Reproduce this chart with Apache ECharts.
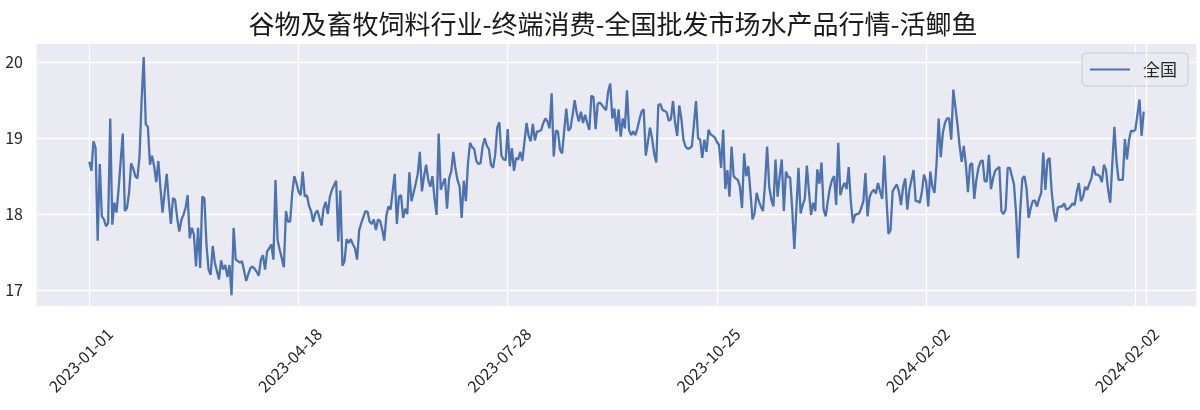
<!DOCTYPE html>
<html>
<head>
<meta charset="utf-8">
<script src="https://cdn.jsdelivr.net/npm/echarts@6/dist/echarts.min.js"></script>
<style>html,body{margin:0;padding:0;background:#fff}#c{width:1200px;height:410px}</style>
</head>
<body>
<div id="c"></div>
<script>
const titleText = '谷物及畜牧饲料行业-终端消费-全国批发市场水产品行情-活鲫鱼';
const seriesName = '全国';
const tickIndex = [0, 100, 200, 300, 400, 500];
const tickLabels = ['2023-01-01', '2023-04-18', '2023-07-28', '2023-10-25', '2024-02-02', '2024-02-02'];
const extraGridX = [505];
const yTicks = [17, 18, 19, 20];
const values = [
18.69,18.57,18.96,18.87,17.65,18.66,17.97,17.93,17.84,17.88,
19.26,17.86,18.15,18.02,18.33,18.70,19.06,18.04,18.08,18.28,
18.67,18.60,18.50,18.47,18.76,19.50,20.07,19.18,19.15,18.65,
18.77,18.63,18.42,18.70,18.35,18.02,18.28,18.53,18.17,17.87,
18.21,18.19,17.95,17.77,17.92,17.99,18.08,18.25,
17.68,17.82,17.73,17.31,17.82,17.29,18.23,18.21,17.60,17.27,
17.20,17.58,17.36,17.25,17.14,17.39,17.27,17.33,17.17,17.33,
16.93,17.82,17.40,17.38,17.36,17.38,17.25,17.12,17.21,17.29,
17.31,17.28,17.24,17.19,17.40,17.46,17.27,17.51,17.55,17.60,
17.40,18.45,17.66,17.53,17.42,17.30,18.04,17.90,17.90,18.28,
18.50,
18.41,18.30,18.25,18.56,18.23,18.25,18.11,18.04,17.90,18.01,
18.05,17.95,17.85,18.08,18.16,18.00,18.23,18.32,18.38,18.44,
17.64,18.31,17.32,17.38,17.67,17.62,17.67,17.60,17.55,17.40,
17.79,17.88,17.96,18.04,18.03,17.90,17.87,17.93,17.79,17.93,
17.91,17.80,17.65,17.98,18.10,18.06,18.30,18.53,17.87,18.23,
18.25,17.95,18.07,18.00,18.55,18.17,18.28,18.40,18.53,18.82,
18.30,18.50,18.65,18.45,18.36,18.50,18.21,17.99,19.06,18.32,
18.40,18.47,18.07,18.47,18.56,18.82,18.60,18.45,18.36,17.95,
18.44,18.17,18.67,18.94,18.88,18.86,18.70,18.66,18.67,18.89,
19.00,18.90,18.86,18.65,18.61,18.78,19.14,19.21,18.77,18.72,
18.71,19.12,18.63,18.87,18.57,18.74,18.72,18.82,18.70,18.95,
19.20,19.03,18.96,19.19,18.97,19.09,19.09,19.11,19.20,19.26,
19.22,19.13,19.59,18.76,19.10,19.09,18.85,18.80,19.10,19.39,
19.10,19.13,19.30,19.50,19.33,19.22,19.35,19.20,19.31,19.20,
19.11,19.56,19.54,19.12,19.45,19.47,19.44,19.40,19.37,19.61,
19.72,
19.26,19.39,19.09,19.38,19.02,19.26,19.13,19.63,19.11,19.04,
19.09,19.04,19.13,19.25,19.35,19.38,18.77,18.95,19.14,19.00,
18.80,18.68,19.44,19.45,19.37,19.36,19.34,19.23,19.25,19.49,
19.20,19.03,19.43,19.26,18.98,18.89,18.86,18.87,18.89,19.18,
19.49,19.00,18.98,18.74,18.98,18.82,19.11,19.05,19.03,19.01,
18.95,18.91,18.61,19.11,18.33,18.58,18.23,18.89,18.50,18.47,
18.45,18.36,18.08,18.80,18.50,18.63,18.30,17.93,18.01,18.28,
18.17,18.10,18.04,18.40,18.89,18.36,18.19,18.10,18.72,18.23,
18.50,18.72,18.04,18.56,18.49,18.48,18.06,17.54,18.08,18.61,
18.01,18.12,18.20,18.64,18.30,17.99,18.15,18.04,18.59,18.40,
18.68,18.06,17.97,18.17,18.34,18.45,18.50,18.12,18.94,18.25,
18.35,18.41,18.33,18.62,18.17,17.88,17.99,18.00,18.01,18.08,
18.17,18.54,17.97,18.23,18.29,18.32,18.27,18.41,18.30,18.20,
18.77,18.23,17.74,17.79,18.30,18.35,18.39,18.30,18.12,18.36,
18.47,18.06,18.32,18.45,18.58,18.17,18.17,18.15,18.30,18.52,
18.43,18.10,18.56,18.36,18.28,18.67,19.26,18.75,19.07,19.20,
19.26,19.26,18.98,19.64,19.41,19.18,18.90,18.69,18.90,18.65,
18.29,18.65,18.67,18.20,18.45,18.61,18.69,18.71,18.43,18.43,
18.78,18.33,18.47,18.57,18.60,18.62,18.04,18.00,18.06,18.61,
18.61,18.50,18.39,18.01,17.42,18.06,18.47,18.50,18.34,17.95,
18.08,18.17,18.18,18.10,18.20,18.28,18.81,18.32,18.71,18.74,
18.30,18.04,17.90,18.09,18.10,18.10,18.14,18.06,18.07,18.10,
18.14,18.12,18.29,18.41,18.17,18.23,18.36,18.32,18.40,18.47,
18.63,18.52,18.52,18.50,18.42,18.65,18.58,18.32,18.15,18.67,
19.15,18.69,18.45,18.45,18.45,18.99,18.72,18.98,19.10,19.09,
19.11,19.31,19.51,19.03,19.35
];

const chart = echarts.init(document.getElementById('c'), null, {renderer: 'canvas'});
const labelFont = "'Noto Sans CJK SC', 'DejaVu Sans', sans-serif";
const option = {
  animation: false,
  backgroundColor: '#ffffff',
  title: {
    text: titleText,
    left: 608,
    textAlign: 'center',
    top: 6,
    textStyle: {fontFamily: labelFont, fontSize: 26, fontWeight: 'normal', color: '#1a1a1a'}
  },
  legend: {
    data: [{name: seriesName, icon: 'rect'}],
    right: 12,
    top: 53,
    itemWidth: 40,
    itemHeight: 2,
    padding: [8, 11, 8, 8],
    backgroundColor: '#EAEAF2',
    borderColor: '#cccccc',
    borderWidth: 1,
    borderRadius: 4,
    textStyle: {fontFamily: labelFont, fontSize: 17, color: '#262626', padding: [0, 0, 0, 8]}
  },
  graphic: {
    elements: [{
      type: 'rect', z: -10, silent: true,
      shape: {x: 36.6, y: 44, width: 1159.8, height: 262},
      style: {fill: '#EAEAF2'}
    }]
  },
  grid: {left: 37, right: 4, top: 43.3, bottom: 101, containLabel: false, outerBoundsMode: 'none', show: false},
  xAxis: {
    type: 'value',
    min: -25, max: 529, interval: 25,
    axisLine: {show: false}, axisTick: {show: false},
    splitLine: {show: true, lineStyle: {color: ['transparent', '#ffffff', 'transparent', 'transparent'], width: 1.3}},
    axisLabel: {
      rotate: 45, align: 'center', verticalAlign: 'bottom', margin: 54,
      padding: [0, 8, 0, 0],
      fontFamily: labelFont, fontSize: 16, color: '#262626',
      showMinLabel: true, showMaxLabel: true,
      formatter: function (v) { const k = tickIndex.indexOf(v); return k >= 0 ? tickLabels[k] : ''; }
    }
  },
  yAxis: {
    type: 'value',
    min: 16.75, max: 20.25, interval: 0.25,
    axisLine: {show: false}, axisTick: {show: false},
    splitLine: {show: true, lineStyle: {color: ['transparent', '#ffffff', 'transparent', 'transparent'], width: 1.3}},
    axisLabel: {
      margin: 14, fontFamily: labelFont, fontSize: 16, color: '#262626',
      formatter: function (v) { return yTicks.indexOf(v) >= 0 ? String(v) : ''; }
    }
  },
  series: [
    {
      type: 'line', name: '__grid', data: [], z: 1, silent: true,
      markLine: {
        silent: true, symbol: 'none', animation: false,
        label: {show: false},
        lineStyle: {color: '#ffffff', width: 1.3, type: 'solid'},
        data: extraGridX.map(x => ({xAxis: x}))
      }
    },
    {
      type: 'line', name: seriesName, z: 3,
      data: values.map((v, i) => [i, v]),
      showSymbol: false, symbol: 'none',
      lineStyle: {color: '#4C72B0', width: 2.3},
      itemStyle: {color: '#4C72B0'}
    }
  ]
};
chart.setOption(option);
</script>
</body>
</html>
